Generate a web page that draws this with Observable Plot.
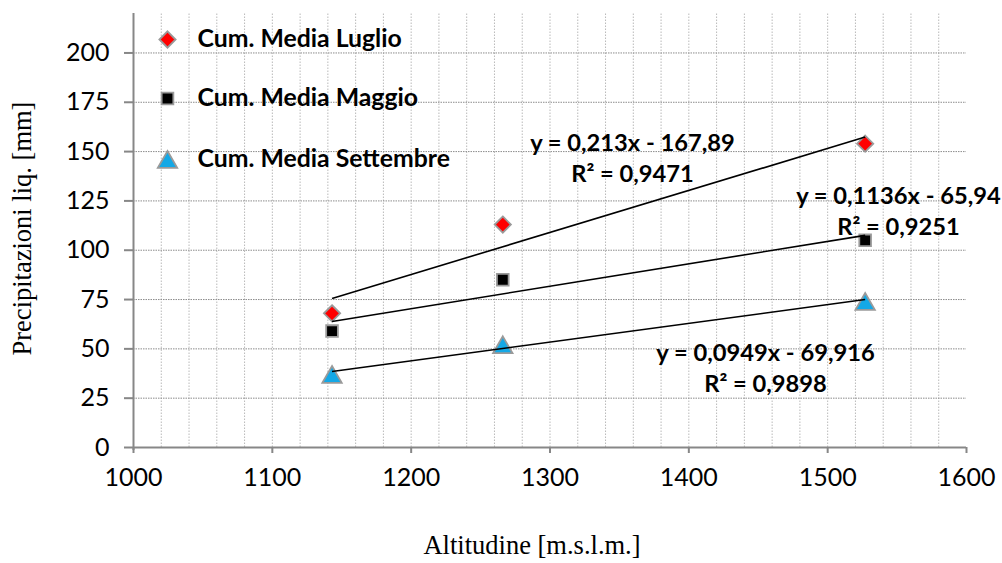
<!DOCTYPE html>
<html>
<head>
<meta charset="utf-8">
<script src="https://cdn.jsdelivr.net/npm/d3@7"></script>
<script src="https://cdn.jsdelivr.net/npm/@observablehq/plot@0.6"></script>
<style>
  html, body { margin: 0; padding: 0; background: #fff; }
  #chart svg { display: block; }
</style>
</head>
<body>
<div id="chart"></div>
<script>
// ---- data ----
const seriesNames = ["Cum. Media Luglio", "Cum. Media Maggio", "Cum. Media Settembre"];
const altitudes = [1143, 1266, 1527];
const luglio = [68, 113, 154];
const maggio = [59, 85, 105];
const settembre = [37, 52, 74];
const slopes = [0.213, 0.1136, 0.0949];
const intercepts = [-167.89, -65.94, -69.916];
const r2Values = [0.9471, 0.9251, 0.9898];
const xTicks = [1000, 1100, 1200, 1300, 1400, 1500, 1600];
const yTicks = [0, 25, 50, 75, 100, 125, 150, 175, 200];

// ---- styling (not data) ----
const fills = ["#ff0000", "#000000", "#14a8e6"];
const symbols = ["diamond2", "square", "triangle"];
const radii = [7.3, 6.6, 7.2];
const symbolDy = [0, 0, 2.7];
const labelAnchors = [[1359.4, 147.7], [1551, 120.4], [1455.2, 41.1]];
const legendRows = [26, 85, 146];

const seriesValues = [luglio, maggio, settembre];
const seriesPoints = seriesValues.map(vals => vals.map((v, i) => ({x: altitudes[i], y: v})));

const xMin = d3.min(altitudes), xMax = d3.max(altitudes);
const trends = slopes.map((m, s) => ({
  s, x1: xMin, y1: m * xMin + intercepts[s], x2: xMax, y2: m * xMax + intercepts[s]
}));

const fmt = v => String(Math.abs(v)).replace(".", ",");
const eqLabels = slopes.map((m, s) => ({
  s,
  x: labelAnchors[s][0], y: labelAnchors[s][1],
  text: `y = ${fmt(m)}x ${intercepts[s] < 0 ? "-" : "+"} ${fmt(intercepts[s])}\nR² = ${fmt(r2Values[s])}`
}));

const minorX = d3.range(1020, 1600, 20);

const axisGray = "#878787";
const markerStroke = "#9a9a9a";

const seriesDots = seriesPoints.map((pts, s) => Plot.dot(pts, {
  x: "x", y: "y", symbol: symbols[s], r: radii[s], fill: fills[s], dy: symbolDy[s],
  stroke: markerStroke, strokeWidth: 1.8
}));

const legendDots = seriesNames.map((name, s) => Plot.dot([name], {
  frameAnchor: "top-left", dx: 34, dy: legendRows[s] + symbolDy[s],
  symbol: symbols[s], r: radii[s], fill: fills[s],
  stroke: markerStroke, strokeWidth: 1.8
}));
const legendTexts = seriesNames.map((name, s) => Plot.text([name], {
  frameAnchor: "top-left", dx: 64, dy: legendRows[s], text: d => d,
  lineAnchor: "middle", textAnchor: "start",
  fontSize: 24.8, fontWeight: "bold", fill: "#000"
}));

const chart = Plot.plot({
  width: 1002,
  height: 563,
  marginLeft: 133,
  marginRight: 36,
  marginTop: 13,
  marginBottom: 116,
  style: {fontFamily: "Lato, sans-serif", background: "#fff", color: "#000"},
  x: {domain: [1000, 1600]},
  y: {domain: [0, 220]},
  marks: [
    // vertical minor grid
    Plot.ruleX(minorX, {y1: 0, y2: 220, stroke: "#b9b9b9", strokeWidth: 1, strokeDasharray: "1.5,1.5"}),
    // horizontal grid
    Plot.ruleY(yTicks.filter(d => d > 0), {x1: 1000, x2: 1600, stroke: "#8c8c8c", strokeWidth: 1, strokeDasharray: "1.5,1"}),
    // axes lines
    Plot.ruleY([0], {x1: 1000, x2: 1600, stroke: axisGray, strokeWidth: 2}),
    Plot.ruleX([1000], {y1: -1.5, y2: 220, stroke: axisGray, strokeWidth: 2}),
    Plot.axisX({ticks: xTicks, tickSize: 6, tickPadding: 15, fontSize: 25, stroke: axisGray, strokeWidth: 2, tickFormat: d => String(d), label: null}),
    Plot.axisY({ticks: yTicks, tickSize: 9, tickPadding: 15, fontSize: 25, stroke: axisGray, strokeWidth: 2, tickFormat: d => String(d), label: null}),
    // points
    ...seriesDots,
    // trend lines
    Plot.link(trends, {x1: "x1", y1: "y1", x2: "x2", y2: "y2", stroke: "#000", strokeWidth: 1.6}),
    // equation labels
    Plot.text(eqLabels, {
      x: "x", y: "y", text: "text",
      fontSize: 23.7, fontWeight: "bold", fill: "#000", lineHeight: 1.31, textAnchor: "middle"
    }),
    // legend
    ...legendDots,
    ...legendTexts,
    // axis titles
    Plot.text(["Altitudine [m.s.l.m.]"], {
      frameAnchor: "bottom", dx: -18, dy: 106, text: d => d, textAnchor: "middle",
      fontFamily: "'Liberation Serif', 'Times New Roman', serif", fontSize: 26.5, fill: "#000"
    }),
    Plot.text(["Precipitazioni liq. [mm]"], {
      frameAnchor: "left", dx: -111, dy: -2, rotate: -90, text: d => d, textAnchor: "middle",
      fontFamily: "'Liberation Serif', 'Times New Roman', serif", fontSize: 26.5, fill: "#000"
    })
  ]
});

document.getElementById("chart").appendChild(chart);
</script>
</body>
</html>
